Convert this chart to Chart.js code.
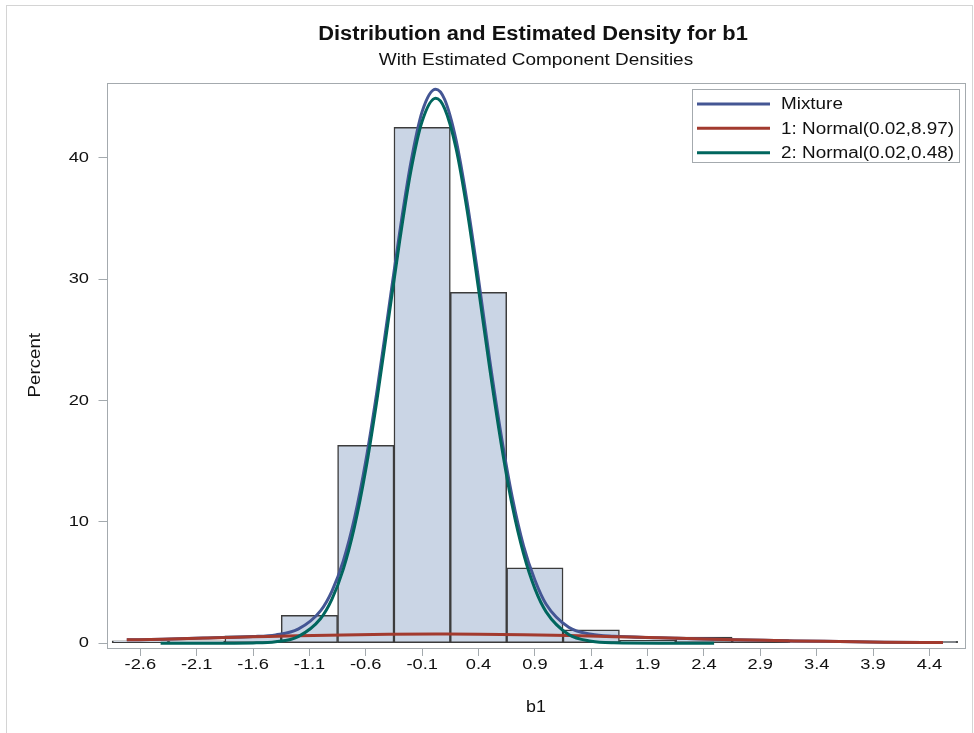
<!DOCTYPE html>
<html lang="en">

<head>
    <meta charset="UTF-8">
    <title>Distribution and Estimated Density for b1</title>
    <script src="https://cdn.jsdelivr.net/npm/chart.js"></script>
    <style>
        html, body { margin: 0; padding: 0; background: #fff; }
    </style>
</head>

<body>
    <canvas id="densityChart" width="974" height="733"></canvas>

    <script>
        // histogram bins (midpoints) and percent of observations
        const binMidpoints = [-2.6, -2.1, -1.6, -1.1, -0.6, -0.1, 0.4, 0.9, 1.4, 1.9, 2.4, 2.9, 3.4, 3.9, 4.4];
        const binPercents = [0.2, 0.2, 0.6, 2.3, 16.3, 42.5, 28.9, 6.2, 1.1, 0.25, 0.5, 0.3, 0.1, 0.1, 0.15];
        const xTickLabels = ['-2.6', '-2.1', '-1.6', '-1.1', '-0.6', '-0.1', '0.4', '0.9', '1.4', '1.9', '2.4', '2.9', '3.4', '3.9', '4.4'];
        const yTickValues = [0, 10, 20, 30, 40];
        const yTickLabels = ['0', '10', '20', '30', '40'];

        // density curves (percent scale)
        const mixtureX = [-2.72, -2.4, -2.0, -1.6, -1.4, -1.2, -1.0, -0.9, -0.8, -0.7, -0.6, -0.5, -0.4, -0.3, -0.2, -0.1, 0.02, 0.1, 0.2, 0.3, 0.4, 0.5, 0.6, 0.7, 0.8, 0.9, 1.0, 1.2, 1.4, 1.6, 2.0, 2.4, 2.8, 3.2, 3.6, 4.0, 4.52];
        const mixtureY = [0.27, 0.33, 0.43, 0.54, 0.68, 1.15, 2.68, 4.29, 6.76, 10.3, 15.0, 20.8, 27.3, 33.8, 39.6, 43.8, 45.65, 44.8, 41.5, 36.3, 30.0, 23.3, 17.2, 12.0, 8.0, 5.2, 3.2, 1.3, 0.73, 0.56, 0.44, 0.34, 0.26, 0.18, 0.13, 0.08, 0.05];

        const normal1X = [-2.72, -2.4, -2.0, -1.6, -1.2, -0.8, -0.4, 0.02, 0.4, 0.8, 1.2, 1.6, 2.0, 2.4, 2.8, 3.2, 3.6, 4.0, 4.52];
        const normal1Y = [0.27, 0.33, 0.43, 0.52, 0.61, 0.68, 0.73, 0.75, 0.74, 0.69, 0.62, 0.53, 0.44, 0.34, 0.26, 0.18, 0.13, 0.08, 0.05];

        const normal2X = [-2.42, -2.0, -1.6, -1.4, -1.2, -1.0, -0.9, -0.8, -0.7, -0.6, -0.5, -0.4, -0.3, -0.2, -0.1, 0.02, 0.1, 0.2, 0.3, 0.4, 0.5, 0.6, 0.7, 0.8, 0.9, 1.0, 1.2, 1.4, 1.6, 2.0, 2.49];
        const normal2Y = [0.0, 0.0, 0.02, 0.11, 0.54, 2.03, 3.62, 6.08, 9.6, 14.3, 20.1, 26.6, 33.1, 38.9, 43.0, 44.9, 44.05, 40.8, 35.6, 29.2, 22.6, 16.5, 11.3, 7.35, 4.49, 2.58, 0.71, 0.16, 0.03, 0.0, 0.0];

        const titleText = 'Distribution and Estimated Density for b1';
        const subtitleText = 'With Estimated Component Densities';
        const xTitle = 'b1';
        const yTitle = 'Percent';

        const FONT = '"Liberation Sans", Arial, sans-serif';
        const TEXT = '#111';
        const AXIS = '#a4aaae';

        const toPoints = (xs, ys) => xs.map((x, i) => ({ x: x, y: ys[i] }));

        // SAS text comes out a bit wider than Liberation Sans, so stretch it along the baseline
        function drawText(ctx, text, x, y, font, stretch, align, rotate) {
            ctx.save();
            ctx.translate(x, y);
            if (rotate) ctx.rotate(rotate);
            ctx.scale(stretch, 1);
            ctx.font = font;
            ctx.textAlign = align || 'center';
            ctx.textBaseline = 'middle';
            ctx.fillStyle = TEXT;
            ctx.fillText(text, 0, 0);
            ctx.restore();
        }

        // frame, titles, tick labels and the inset legend
        const sasDecor = {
            id: 'sasDecor',
            beforeDraw(chart) {
                const ctx = chart.ctx;
                ctx.save();
                ctx.fillStyle = '#fff';
                ctx.fillRect(0, 0, chart.width, chart.height);
                ctx.strokeStyle = '#d4d4d4';
                ctx.lineWidth = 1;
                ctx.strokeRect(6.5, 5.5, 966, 740);
                ctx.restore();
            },
            afterDraw(chart) {
                const ctx = chart.ctx;
                const a = chart.chartArea;
                const cx = (a.left + a.right) / 2;
                const xs = chart.scales.x, ys = chart.scales.y;
                ctx.save();
                ctx.strokeStyle = AXIS;
                ctx.lineWidth = 1;
                ctx.strokeRect(Math.round(a.left) + 0.5, Math.round(a.top) + 0.5, Math.round(a.right - a.left) - 1, Math.round(a.bottom - a.top) - 1);

                drawText(ctx, titleText, cx - 3, 35, 'bold 19.5px ' + FONT, 1.12);
                drawText(ctx, subtitleText, cx, 60, '16.5px ' + FONT, 1.15);

                binMidpoints.forEach((v, i) => {
                    drawText(ctx, xTickLabels[i], xs.getPixelForValue(v), 665, '15.5px ' + FONT, 1.18);
                });
                yTickValues.forEach((v, i) => {
                    drawText(ctx, yTickLabels[i], 89, ys.getPixelForValue(v), '15.5px ' + FONT, 1.18, 'right');
                });
                drawText(ctx, xTitle, cx, 707, '17px ' + FONT, 1.05);
                drawText(ctx, yTitle, 35, (a.top + a.bottom) / 2, '17px ' + FONT, 1.1, 'center', -Math.PI / 2);

                // legend box
                const lx = 692.5, ly = 89.5, lw = 267, lh = 73;
                ctx.fillStyle = '#fff';
                ctx.fillRect(lx, ly, lw, lh);
                ctx.strokeStyle = AXIS;
                ctx.lineWidth = 1;
                ctx.strokeRect(lx, ly, lw, lh);
                const rows = [104, 128.3, 152.7];
                chart.data.datasets.filter(d => d.type === 'line').forEach((d, i) => {
                    ctx.strokeStyle = d.borderColor;
                    ctx.lineWidth = 3;
                    ctx.beginPath();
                    ctx.moveTo(697, rows[i]);
                    ctx.lineTo(770, rows[i]);
                    ctx.stroke();
                    drawText(ctx, d.label, 781, rows[i] + 1, '16px ' + FONT, 1.18, 'left');
                });
                ctx.restore();
            }
        };

        const ctx = document.getElementById('densityChart').getContext('2d');
        new Chart(ctx, {
            type: 'bar',
            data: {
                datasets: [{
                    type: 'bar',
                    label: 'b1',
                    data: toPoints(binMidpoints, binPercents),
                    backgroundColor: '#cad5e5',
                    borderColor: '#3c3c3c',
                    borderWidth: 1.5,
                    borderSkipped: false,
                    barPercentage: 1,
                    categoryPercentage: 1,
                    order: 10
                }, {
                    type: 'line',
                    label: 'Mixture',
                    data: toPoints(mixtureX, mixtureY),
                    borderColor: '#445694',
                    borderWidth: 3,
                    pointRadius: 0,
                    cubicInterpolationMode: 'monotone',
                    order: 3
                }, {
                    type: 'line',
                    label: '1: Normal(0.02,8.97)',
                    data: toPoints(normal1X, normal1Y),
                    borderColor: '#a23a2e',
                    borderWidth: 3,
                    pointRadius: 0,
                    cubicInterpolationMode: 'monotone',
                    order: 2
                }, {
                    type: 'line',
                    label: '2: Normal(0.02,0.48)',
                    data: toPoints(normal2X, normal2Y),
                    borderColor: '#01665e',
                    borderWidth: 3,
                    pointRadius: 0,
                    cubicInterpolationMode: 'monotone',
                    order: 1
                }]
            },
            options: {
                responsive: false,
                animation: false,
                layout: { padding: { left: 8.5, right: 8.5, top: 82.5, bottom: 0 } },
                plugins: {
                    legend: { display: false },
                    tooltip: { enabled: false },
                    title: { display: false }
                },
                scales: {
                    x: {
                        type: 'linear',
                        min: -2.9,
                        max: 4.72,
                        offset: false,
                        afterBuildTicks: s => { s.ticks = binMidpoints.map(v => ({ value: v })); },
                        afterFit: s => { s.height = 85; },
                        grid: { offset: false, drawOnChartArea: false, drawTicks: true, tickLength: 8, color: AXIS },
                        border: { display: false },
                        ticks: { display: false },
                        title: { display: false }
                    },
                    y: {
                        min: -0.4,
                        max: 46.2,
                        afterBuildTicks: s => { s.ticks = yTickValues.map(v => ({ value: v })); },
                        afterFit: s => { s.width = 98; },
                        grid: { drawOnChartArea: false, drawTicks: true, tickLength: 8, color: AXIS },
                        border: { display: false },
                        ticks: { display: false },
                        title: { display: false }
                    }
                }
            },
            plugins: [sasDecor]
        });
    </script>
</body>

</html>
